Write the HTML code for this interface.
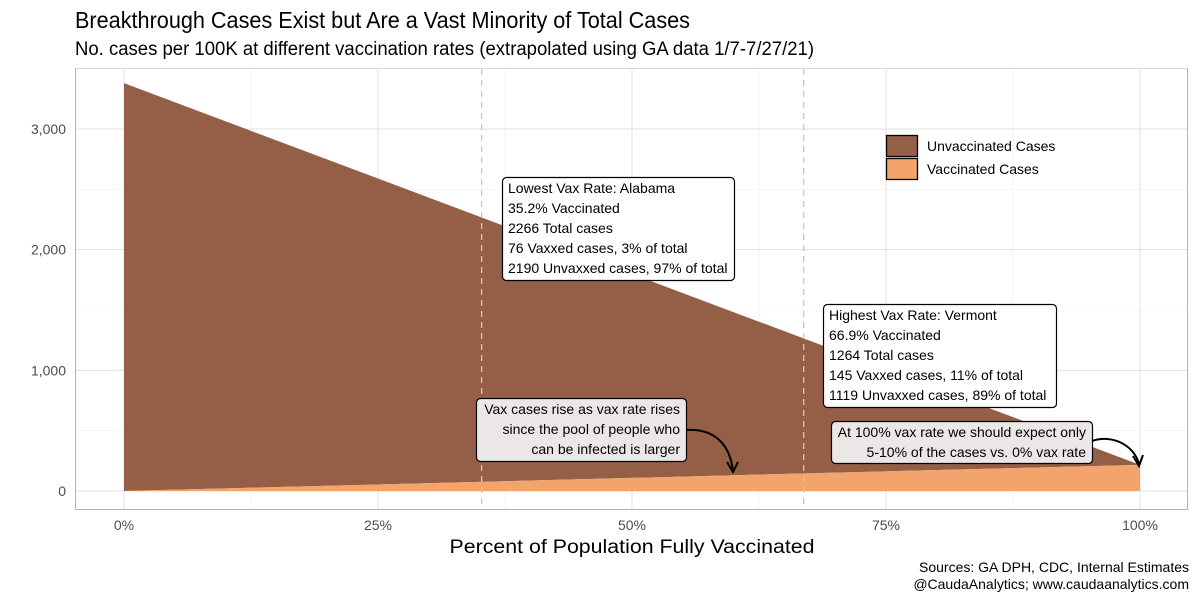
<!DOCTYPE html>
<html><head><meta charset="utf-8"><style>
body{margin:0;background:#fff;}
svg{display:block;font-family:"Liberation Sans",sans-serif;}
</style></head><body>
<svg id="chart" width="1200" height="600"></svg>
<script>
const xPcts = [0, 100];
const unvaxTotal = [3380, 217];
const vaxCases = [0, 217];
const yTicks = [0, 1000, 2000, 3000];
const yTickLabels = ["0", "1,000", "2,000", "3,000"];
const xTicks = [0, 25, 50, 75, 100];
const xTickLabels = ["0%", "25%", "50%", "75%", "100%"];
const stateRates = [35.2, 66.9];

const NS = "http://www.w3.org/2000/svg";
const svg = document.getElementById("chart");
const xs = v => 124 + v * 10.16;
const ys = v => 491 - v * 0.12067;
function el(tag, attrs, parent) {
  const e = document.createElementNS(NS, tag);
  for (const k in attrs) e.setAttribute(k, attrs[k]);
  (parent || svg).appendChild(e);
  return e;
}
function txt(x, y, s, size, fill, anchor, name, tl) {
  const t = el("text", {x: x, y: y, "font-size": size, fill: fill, "text-anchor": anchor || "start"});
  if (tl) { t.setAttribute("textLength", tl); t.setAttribute("lengthAdjust", "spacingAndGlyphs"); }
  t.textContent = s;
  
  
  return t;
}
const border = el("rect", {x: 75.5, y: 68.5, width: 1112, height: 441, fill: "#fff", stroke: "#b3b3b3", "stroke-width": 1});


for (let i = 0; i < yTicks.length; i++) {
  const m = yTicks[i] + 500;
  el("line", {x1: 76, x2: 1187, y1: ys(m), y2: ys(m), stroke: "#f0f0f0", "stroke-width": 0.6});
}
for (let i = 0; i < xTicks.length - 1; i++) {
  const m = xTicks[i] + 12.5;
  el("line", {x1: xs(m), x2: xs(m), y1: 69, y2: 509, stroke: "#f0f0f0", "stroke-width": 0.6});
}
yTicks.forEach((v, i) => {
  const g = el("line", {x1: 76, x2: 1187, y1: ys(v), y2: ys(v), stroke: "#e0e0e0", "stroke-width": 1});
  
  
  txt(66, ys(v) + 5, yTickLabels[i], 14, "#4d4d4d", "end", "y-tick-label");
});
xTicks.forEach((v, i) => {
  const g = el("line", {x1: xs(v), x2: xs(v), y1: 69, y2: 509, stroke: "#e0e0e0", "stroke-width": 1});
  
  
  txt(xs(v), 530, xTickLabels[i], 14, "#4d4d4d", "middle", "x-tick-label");
});
const un = el("polygon", {points: `${xs(xPcts[0])},${ys(vaxCases[0])} ${xs(xPcts[0])},${ys(unvaxTotal[0])} ${xs(xPcts[1])},${ys(unvaxTotal[1])} ${xs(xPcts[1])},${ys(vaxCases[1])}`, fill: "#955f47"});


const va = el("polygon", {points: `${xs(xPcts[0])},${ys(0)} ${xs(xPcts[0])},${ys(vaxCases[0])} ${xs(xPcts[1])},${ys(vaxCases[1])} ${xs(xPcts[1])},${ys(0)}`, fill: "#f2a46c"});


stateRates.forEach(r => {
  const d = el("line", {x1: xs(r), x2: xs(r), y1: 69, y2: 509, stroke: "#c8c8c8", "stroke-width": 1.3, "stroke-dasharray": "6,5"});
  
  
});
function box(x, y, w, h, lines, fill, anchor, name, lh) {
  const r = el("rect", {x: x + 0.5, y: y + 0.5, width: w, height: h, rx: 4, fill: fill, stroke: "#000", "stroke-width": 1.2});
  
  
  lines.forEach((s, i) => {
    const tx = anchor === "end" ? x + w - 6 : x + 6;
    txt(tx, y + 16 + i * lh, s, 14, "#000", anchor, name + "-text");
  });
}
box(502, 177, 232, 103, ["Lowest Vax Rate: Alabama", "35.2% Vaccinated", "2266 Total cases", "76 Vaxxed cases, 3% of total", "2190 Unvaxxed cases, 97% of total"], "#fff", "start", "alabama-label", 20);
box(823, 304, 233, 103, ["Highest Vax Rate: Vermont", "66.9% Vaccinated", "1264 Total cases", "145 Vaxxed cases, 11% of total", "1119 Unvaxxed cases, 89% of total"], "#fff", "start", "vermont-label", 20);
box(476, 398, 210, 63, ["Vax cases rise as vax rate rises", "since the pool of people who", "can be infected is larger"], "#ebe7e6", "end", "vax-rise-annotation", 20);
box(831, 421, 261, 42, ["At 100% vax rate we should expect only", "5-10% of the cases vs. 0% vax rate"], "#ebe7e6", "end", "full-vax-annotation", 20);
const a1 = el("path", {d: "M686,430 C715,428 730,445 733,471", fill: "none", stroke: "#000", "stroke-width": 2});


el("path", {d: "M727,462 L733,472 L738,462", fill: "none", stroke: "#000", "stroke-width": 2});
const a2 = el("path", {d: "M1092,441 C1112,434 1134,445 1139,464", fill: "none", stroke: "#000", "stroke-width": 2});


el("path", {d: "M1133,456 L1139,466 L1143,455", fill: "none", stroke: "#000", "stroke-width": 2});
const l1 = el("rect", {x: 886.5, y: 135.5, width: 31, height: 21, fill: "#955f47", stroke: "#000", "stroke-width": 1.3});


txt(927, 151, "Unvaccinated Cases", 14, "#000", "start", "legend-label-unvaccinated");
const l2 = el("rect", {x: 886.5, y: 158.5, width: 31, height: 21, fill: "#f2a46c", stroke: "#000", "stroke-width": 1.3});


txt(927, 174, "Vaccinated Cases", 14, "#000", "start", "legend-label-vaccinated");
txt(75, 28, "Breakthrough Cases Exist but Are a Vast Minority of Total Cases", 23, "#000", "start", "chart-title", 615);
txt(75, 55, "No. cases per 100K at different vaccination rates (extrapolated using GA data 1/7-7/27/21)", 19, "#000", "start", "chart-subtitle", 739);
txt(632, 553, "Percent of Population Fully Vaccinated", 19, "#000", "middle", "x-axis-title", 365);
txt(1189, 572, "Sources: GA DPH, CDC, Internal Estimates", 14, "#000", "end", "caption-sources");
txt(1189, 589, "@CaudaAnalytics; www.caudaanalytics.com", 14, "#000", "end", "caption-credit");
</script>
</body></html>
